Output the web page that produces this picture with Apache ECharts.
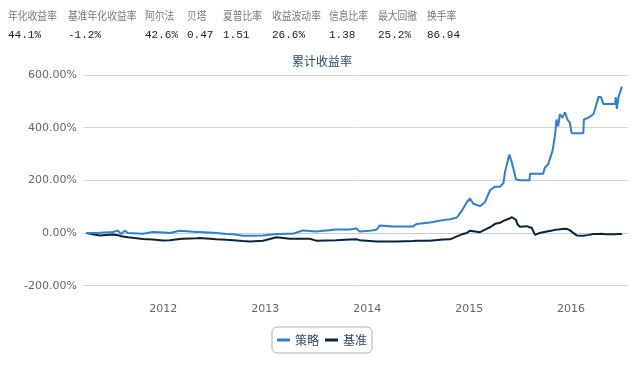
<!DOCTYPE html>
<html><head><meta charset="utf-8">
<script src="https://cdn.jsdelivr.net/npm/echarts@6/dist/echarts.min.js"></script>
<style>html,body{margin:0;padding:0;background:#fff}#c{width:644px;height:376px}</style>
</head><body><div id="c"></div>
<script>
const statNames = ['年化收益率','基准年化收益率','阿尔法','贝塔','夏普比率','收益波动率','信息比率','最大回撤','换手率'];
const statValues = ['44.1%','-1.2%','42.6%','0.47','1.51','26.6%','1.38','25.2%','86.94'];
const statX = [8, 68, 145, 187, 223, 272, 329, 378, 427];

const seriesNames = ['策略','基准'];
const dates = ['2011-04-01','2011-05-19','2011-07-05','2011-07-23','2011-08-04','2011-08-16','2011-08-28','2011-10-21','2011-11-25','2012-01-01','2012-01-25','2012-03-01','2012-03-13','2012-04-30','2012-05-11','2012-07-10','2012-08-15','2012-09-08','2012-10-13','2012-11-06','2012-12-24','2013-02-10','2013-03-29','2013-04-10','2013-05-16','2013-06-09','2013-07-02','2013-09-12','2013-10-30','2013-11-23','2013-11-29','2013-12-05','2014-01-10','2014-02-03','2014-02-15','2014-04-04','2014-04-16','2014-06-14','2014-06-26','2014-08-14','2014-09-29','2014-10-25','2014-11-18','2014-12-06','2014-12-24','2015-01-04','2015-01-16','2015-02-09','2015-02-27','2015-03-17','2015-04-04','2015-04-22','2015-05-04','2015-05-10','2015-05-25','2015-06-03','2015-06-09','2015-06-18','2015-06-23','2015-07-02','2015-07-26','2015-08-05','2015-08-07','2015-08-13','2015-08-25','2015-09-11','2015-09-23','2015-09-29','2015-10-11','2015-10-27','2015-11-04','2015-11-10','2015-11-16','2015-11-22','2015-12-01','2015-12-10','2015-12-19','2015-12-28','2016-01-03','2016-01-21','2016-02-14','2016-02-16','2016-03-04','2016-03-21','2016-03-27','2016-04-08','2016-04-17','2016-04-26','2016-05-05','2016-06-07','2016-06-09','2016-06-13','2016-06-19','2016-07-01'];
const strategy = [0,1,4,9,-4,9,0,-3,4,2,0,9,8,4,4,0,-4,-5,-10,-10,-9,-4,-3,-3,10,8,6,13,13,17,19,6,9,12,29,25,25,25,34,40,49,52,59,85,118,131,111,102,118,163,176,176,190,235,298,268,261,203,200,200,200,200,225,225,225,225,225,248,261,314,366,431,405,451,438,458,431,418,379,379,379,431,438,451,471,516,516,490,490,490,516,471,516,556];
const benchmark = [0,-9,-6,-8,-12,-14,-16,-23,-25,-28,-27,-23,-22,-20,-19,-24,-26,-27,-30,-32,-29,-16,-22,-22,-22,-22,-29,-27,-25,-24,-25,-27,-30,-32,-32,-32,-32,-30,-29,-29,-25,-24,-13,-5,0,9,7,3,13,22,35,39,46,42,55,60,63,50,33,24,26,22,21,20,-7,0,3,4,7,10,12,13,13,14,15,16,15,10,8,-9,-10,-9,-7,-4,-3,-4,-3,-4,-5,-5,-4,-5,-4,-4];
const yearTicks = [2012, 2013, 2014, 2015, 2016];
const xRange = ['2011-03-20', '2016-07-23'];
const yTicks = [-200, 0, 200, 400, 600];

const ts = s => { const p = s.split('-').map(Number); return Date.UTC(p[0], p[1]-1, p[2]); };
const chart = echarts.init(document.getElementById('c'), null, {renderer:'canvas'});
const pair = arr => dates.map((d,i)=>[ts(d), arr[i]]);
const graphics = [];
statNames.forEach((n,i)=>{
  graphics.push({type:'text', x: statX[i], y: 10, scaleX:0.89, style:{text:n, fill:'#7a7a7a', font:'11px "Noto Sans CJK SC", sans-serif'}});
  graphics.push({type:'text', x: statX[i], y: 30, style:{text:statValues[i], fill:'#222', font:'11px "Liberation Mono", monospace'}});
});
chart.setOption({
  animation:false,
  color:['#2f7ed8','#0d233a'],
  title:{text:'累计收益率', left:'center', top:55, padding:0, textStyle:{fontSize:12, fontWeight:'normal', color:'#274b6d', fontFamily:'"Noto Sans CJK SC", sans-serif'}},
  graphic: graphics,
  legend:{data:seriesNames, bottom:23, left:'center', icon:'rect', itemWidth:13, itemHeight:3, itemGap:6,
    borderColor:'#b0b0b0', borderWidth:1, borderRadius:5, padding:[7,5,7,5],
    textStyle:{fontSize:12, color:'#274b6d', fontFamily:'"Noto Sans CJK SC", sans-serif'}},
  grid:{left:83, right:16, top:75, bottom:90.3, containLabel:false},
  xAxis:{type:'value', min:ts(xRange[0]), max:ts(xRange[1]), offset:15,
    axisLine:{lineStyle:{color:'#c0d0e0'}}, axisTick:{show:false}, splitLine:{show:false},
    axisLabel:{customValues: yearTicks.map(y=>Date.UTC(y,0,1)), formatter: v=>String(new Date(v).getUTCFullYear()), color:'#666', fontSize:11, fontFamily:'"DejaVu Sans", sans-serif', margin:3, hideOverlap:false}},
  yAxis:{type:'value', min:yTicks[0], max:yTicks[yTicks.length-1], interval:200,
    axisLine:{show:false}, axisTick:{show:false},
    splitLine:{lineStyle:{color:'#d8d8d8'}},
    axisLabel:{formatter:v=>v.toFixed(2)+'%', color:'#666', fontSize:11, fontFamily:'"DejaVu Sans", sans-serif', margin:6}},
  series:[
    {name:seriesNames[0], type:'line', data:pair(strategy), showSymbol:false, lineStyle:{width:2}, z:3},
    {name:seriesNames[1], type:'line', data:pair(benchmark), showSymbol:false, lineStyle:{width:2}, z:2}
  ]
});
</script></body></html>
